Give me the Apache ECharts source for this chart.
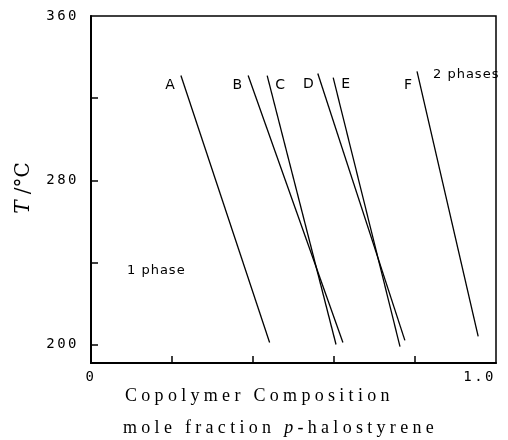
<!DOCTYPE html>
<html>
<head>
<meta charset="utf-8">
<script src="https://cdn.jsdelivr.net/npm/echarts@6/dist/echarts.min.js"></script>
<style>
  html, body { margin: 0; padding: 0; background: #fff; }
  #chart { width: 508px; height: 440px; }
</style>
</head>
<body>
<div id="chart"></div>
<script>
// Cloud-point lines of the copolymers: top and bottom ends of each line
const copolymers = ['A', 'B', 'C', 'D', 'E', 'F'];
const compTop = [0.222, 0.388, 0.435, 0.560, 0.598, 0.805];
const tempTop = [331, 331, 331, 332, 330, 333];
const compBottom = [0.441, 0.622, 0.605, 0.775, 0.763, 0.956];
const tempBottom = [201, 201, 200, 202, 199, 204];

// Where each line's letter sits next to its upper end
const labelSide = ['left', 'left', 'right', 'left', 'right', 'left'];
const labelGap = [5, 5, 8, 3, 8, 4];
const labelDrop = [10, 10, 10, 11, 7, 14];

// Axis ticks and labels
const xTickValues = [0.2, 0.4, 0.6, 0.8];
const xLabelValues = [0, 1];
const xTickLabels = ['0', '1.0'];
const yTickValues = [200, 240, 280, 320];
const yLabelValues = [200, 280, 360];
const yTickLabels = ['200', '280', '360'];

// Wide letter tracking, as in the printed figure, keyed by font family
const tracking = [[/Liberation Serif/, 4.3], [/DejaVu Sans Mono/, 2.5], [/DejaVu Sans/, 1]];
(function () {
  const proto = CanvasRenderingContext2D.prototype;
  const setTracking = function (ctx) {
    let px = 0;
    for (const [re, v] of tracking) { if (re.test(ctx.font)) { px = v; break; } }
    ctx.letterSpacing = px + 'px';
  };
  ['fillText', 'strokeText', 'measureText'].forEach(function (fn) {
    const orig = proto[fn];
    proto[fn] = function () { setTracking(this); return orig.apply(this, arguments); };
  });
})();

const tickFont = { fontFamily: 'DejaVu Sans Mono', fontSize: 14, color: '#000' };
const markFont = { fontFamily: 'DejaVu Sans', fontSize: 14, color: '#000' };

const series = copolymers.map(function (name, i) {
  return {
    name: name,
    type: 'line',
    symbol: 'circle',
    symbolSize: 0,
    showSymbol: true,
    animation: false,
    itemStyle: { color: '#000' },
    lineStyle: { color: '#000', width: 1.3 },
    data: [
      {
        value: [compTop[i], tempTop[i]],
        label: {
          show: true,
          formatter: '{a}',
          position: labelSide[i],
          distance: labelGap[i],
          offset: [0, labelDrop[i]],
          ...markFont
        }
      },
      [compBottom[i], tempBottom[i]]
    ]
  };
});

const chart = echarts.init(document.getElementById('chart'), null, { renderer: 'canvas' });
chart.setOption({
  animation: false,
  backgroundColor: '#fff',
  grid: {
    left: 91, right: 12, top: 16, bottom: 77,
    show: true, borderColor: '#000', borderWidth: 1.5, backgroundColor: 'transparent'
  },
  xAxis: {
    type: 'value', min: 0, max: 1,
    axisLine: { lineStyle: { color: '#000', width: 2 } },
    axisTick: { inside: true, length: 7, customValues: xTickValues, lineStyle: { color: '#000', width: 1.5 } },
    axisLabel: {
      customValues: xLabelValues,
      formatter: function (v) { return xTickLabels[xLabelValues.indexOf(v)]; },
      margin: 6, alignMaxLabel: 'right', ...tickFont
    },
    splitLine: { show: false }
  },
  yAxis: {
    type: 'value', min: 191, max: 360,
    axisLine: { lineStyle: { color: '#000', width: 2 } },
    axisTick: { inside: true, length: 7, customValues: yTickValues, lineStyle: { color: '#000', width: 1.5 } },
    axisLabel: {
      customValues: yLabelValues,
      formatter: function (v) { return yTickLabels[yLabelValues.indexOf(v)]; },
      margin: 12, ...tickFont
    },
    splitLine: { show: false }
  },
  graphic: [
    {
      type: 'text', x: 24, y: 188, rotation: Math.PI / 2,
      style: {
        text: '{i|T} /°C', align: 'center', verticalAlign: 'middle',
        fontFamily: 'DejaVu Serif', fontSize: 20, fill: '#000',
        rich: { i: { fontStyle: 'italic', fontFamily: 'DejaVu Serif', fontSize: 20 } }
      }
    },
    {
      type: 'text', x: 125, y: 396,
      style: {
        text: 'Copolymer Composition', align: 'left', verticalAlign: 'middle',
        fontFamily: 'Liberation Serif', fontSize: 18, fill: '#000'
      }
    },
    {
      type: 'text', x: 123, y: 428,
      style: {
        text: 'mole fraction {i|p}-halostyrene', align: 'left', verticalAlign: 'middle',
        fontFamily: 'Liberation Serif', fontSize: 18, fill: '#000',
        rich: { i: { fontStyle: 'italic', fontFamily: 'Liberation Serif', fontSize: 18 } }
      }
    },
    {
      type: 'text', x: 127, y: 271,
      style: { text: '1 phase', align: 'left', verticalAlign: 'middle', fontFamily: 'DejaVu Sans', fontSize: 13, fill: '#000' }
    },
    {
      type: 'text', x: 433, y: 75,
      style: { text: '2 phases', align: 'left', verticalAlign: 'middle', fontFamily: 'DejaVu Sans', fontSize: 13, fill: '#000' }
    }
  ],
  series: series
});
</script>
</body>
</html>
